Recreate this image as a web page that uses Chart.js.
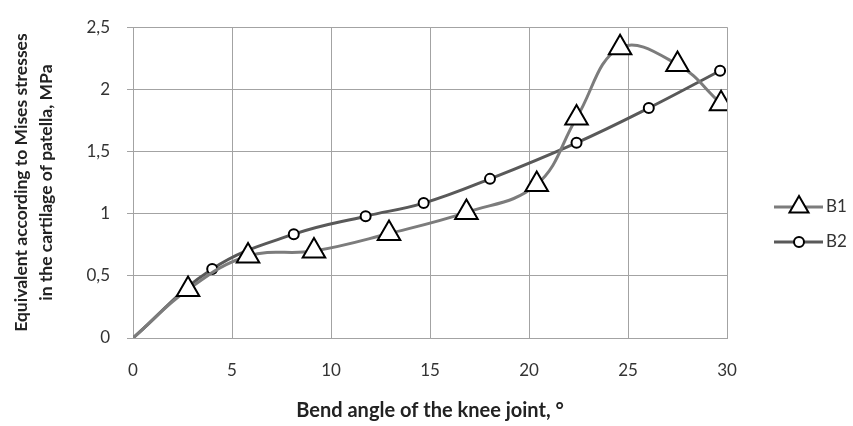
<!DOCTYPE html>
<html lang="en">
<head>
    <meta charset="UTF-8">
    <title>Mises stresses vs bend angle</title>
    <script src="https://cdn.jsdelivr.net/npm/chart.js"></script>
    <style>
        html, body { margin: 0; padding: 0; background: #fff; }
        #wrap { width: 853px; height: 426px; }
    </style>
</head>
<body>
    <div id="wrap"><canvas id="kneeChart" width="853" height="426"></canvas></div>

    <script>
        // values
        const seriesNames = ['B1', 'B2'];
        const b1Angle = [0, 2.78, 5.81, 9.14, 12.93, 16.84, 20.39, 22.4, 24.6, 27.5, 29.7];
        const b1Stress = [0, 0.39, 0.66, 0.70, 0.84, 1.01, 1.235, 1.77, 2.335, 2.2, 1.885];
        const b2Angle = [0, 4.0, 8.12, 11.75, 14.68, 18.03, 22.4, 26.05, 29.65];
        const b2Stress = [0, 0.555, 0.835, 0.98, 1.085, 1.28, 1.57, 1.85, 2.15];
        const xTickLabels = ['0', '5', '10', '15', '20', '25', '30'];
        const yTickLabels = ['0', '0,5', '1', '1,5', '2', '2,5'];

        const FONT = 'Lato, "Open Sans", sans-serif';
        const gridColor = '#a3a3a3';

        function toPoints(xs, ys) {
            return xs.map((x, i) => ({ x: x, y: ys[i] }));
        }

        const styles = [
            { color: '#7c7c7c', pointStyle: 'triangle', radius: 13, borderWidth: 2 },
            { color: '#595959', pointStyle: 'circle', radius: 5, borderWidth: 2 }
        ];

        // legend drawn by hand: line with marker, like the office chart
        const sideLegend = {
            id: 'sideLegend',
            afterDraw(chart) {
                const ctx = chart.ctx;
                const rows = [207, 242];
                chart.data.datasets.forEach((ds, i) => {
                    const y = rows[i];
                    const st = styles[i];
                    ctx.save();
                    ctx.strokeStyle = st.color;
                    ctx.lineWidth = 3;
                    ctx.beginPath();
                    ctx.moveTo(774, y);
                    ctx.lineTo(823, y);
                    ctx.stroke();
                    ctx.fillStyle = '#fff';
                    ctx.strokeStyle = '#000';
                    ctx.lineWidth = st.borderWidth;
                    const r = st.pointStyle === 'triangle' ? 11 : st.radius;
                    Chart.helpers.drawPoint(ctx, { pointStyle: st.pointStyle, radius: r, rotation: 0, borderWidth: st.borderWidth }, 799, y);
                    ctx.fillStyle = '#333';
                    ctx.font = '17px ' + FONT;
                    ctx.textBaseline = 'middle';
                    ctx.textAlign = 'left';
                    ctx.fillText(ds.label, 826, y);
                    ctx.restore();
                });
            }
        };

        const ctx = document.getElementById('kneeChart').getContext('2d');
        new Chart(ctx, {
            type: 'line',
            data: {
                datasets: [
                    {
                        label: seriesNames[0],
                        data: toPoints(b1Angle, b1Stress),
                        borderColor: styles[0].color,
                        borderWidth: 3,
                        tension: 0.4,
                        pointStyle: 'triangle',
                        pointRadius: c => c.dataIndex === 0 ? 0 : styles[0].radius,
                        pointBackgroundColor: '#fff',
                        pointBorderColor: '#000',
                        pointBorderWidth: 2
                    },
                    {
                        label: seriesNames[1],
                        data: toPoints(b2Angle, b2Stress),
                        borderColor: styles[1].color,
                        borderWidth: 3,
                        tension: 0.4,
                        pointStyle: 'circle',
                        pointRadius: c => c.dataIndex === 0 ? 0 : styles[1].radius,
                        pointBackgroundColor: '#fff',
                        pointBorderColor: '#000',
                        pointBorderWidth: 2
                    }
                ]
            },
            options: {
                responsive: false,
                animation: false,
                layout: { padding: { left: 0, top: 19, right: 126, bottom: 0 } },
                plugins: {
                    legend: { display: false },
                    tooltip: { enabled: false }
                },
                scales: {
                    x: {
                        type: 'linear',
                        min: 0,
                        max: 30,
                        afterFit: s => { s.height = 88; },
                        grid: { color: gridColor, drawTicks: false },
                        border: { color: gridColor },
                        ticks: {
                            stepSize: 5,
                            padding: 22,
                            color: '#333',
                            font: { family: FONT, size: 17 },
                            callback: (v, i) => xTickLabels[i]
                        },
                        title: {
                            display: true,
                            text: 'Bend angle of the knee joint, °',
                            color: '#222',
                            font: { family: FONT, size: 20, weight: 'bold', lineHeight: 1.2 },
                            padding: { top: 0, bottom: 3 }
                        }
                    },
                    y: {
                        min: 0,
                        max: 2.5,
                        afterFit: s => { s.width = 133; },
                        grid: { color: gridColor, tickLength: 6 },
                        border: { color: gridColor },
                        ticks: {
                            stepSize: 0.5,
                            padding: 17,
                            color: '#333',
                            font: { family: FONT, size: 17 },
                            callback: (v, i) => yTickLabels[i]
                        },
                        title: {
                            display: true,
                            text: ['Equivalent according to Mises stresses', 'in the cartilage of patella, MPa'],
                            color: '#222',
                            font: { family: FONT, size: 17.5, weight: 'bold', lineHeight: 1.43 },
                            padding: { top: 9, bottom: 0 }
                        }
                    }
                }
            },
            plugins: [sideLegend]
        });
    </script>
</body>
</html>
